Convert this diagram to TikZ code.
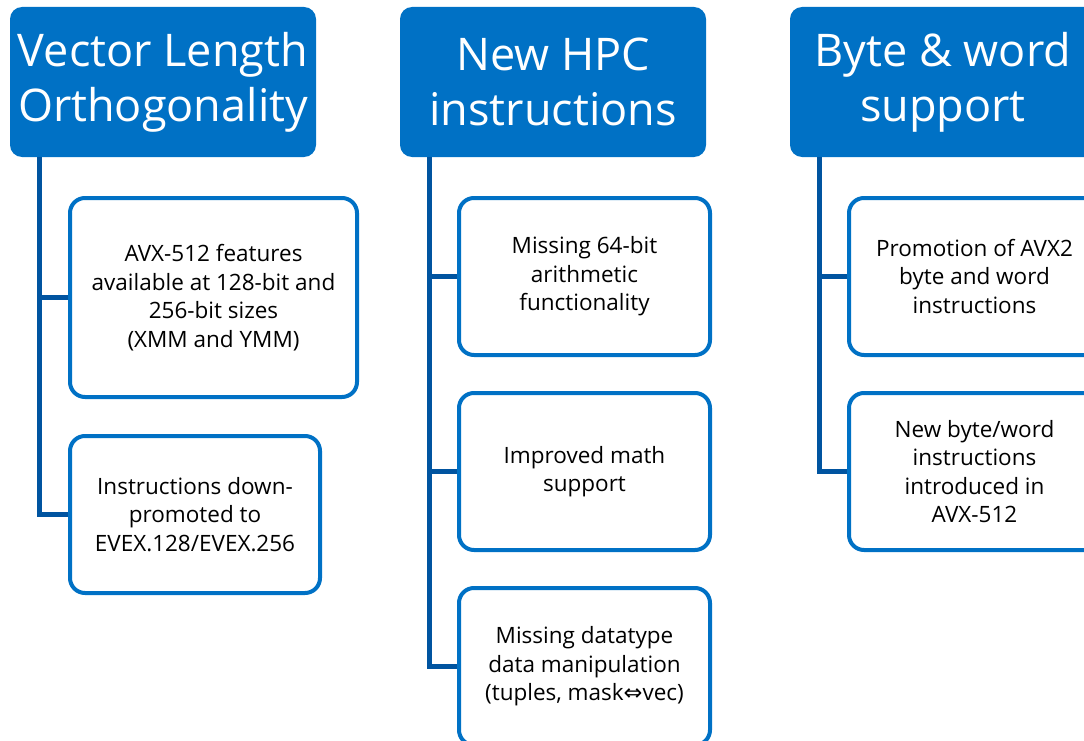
\documentclass[tikz,border=0pt]{standalone}
\usepackage{fontspec}
\setmainfont{Open Sans}
\newfontfamily\symfont{DejaVu Sans}
\definecolor{hdrblue}{RGB}{0,113,197}
\definecolor{linkblue}{RGB}{0,84,160}
\tikzset{
  hdr/.style={fill=hdrblue, rounded corners=12pt, text=white, align=center,
    minimum width=306pt, minimum height=150pt, inner sep=0pt,
    font=\fontsize{45}{55}\selectfont},
  item/.style={draw=hdrblue, line width=4pt, rounded corners=15pt, fill=white,
    align=center, inner sep=0pt, font=\fontsize{22.5}{28.5}\selectfont},
  conn/.style={draw=linkblue, line width=5pt}
}
\begin{document}
\begin{tikzpicture}[x=1pt, y=-1pt]
\useasboundingbox (0,0) rectangle (1084,741);
\clip (0,0) rectangle (1084,741);

% column headers
\node[hdr] (h1) at (163,82) {Vector Length\\Orthogonality};
\node[hdr] (h2) at (553,82) {New HPC\\instructions};
\node[hdr] (h3) at (943,82) {Byte \& word\\support};

% first column
\node[item, minimum width=287pt, minimum height=199pt] (a1) at (213.5,297.5)
  {AVX-512 features\\available at 128-bit and\\256-bit sizes\\(XMM and YMM)};
\node[item, minimum width=250pt, minimum height=157pt] (a2) at (195,514.5)
  {Instructions down-\\promoted to\\EVEX.128/EVEX.256};

% second column
\node[item, minimum width=251pt, minimum height=157pt] (b1) at (584.5,276.5)
  {Missing 64-bit\\arithmetic\\functionality};
\node[item, minimum width=251pt, minimum height=157pt] (b2) at (584.5,471.5)
  {Improved math\\support};
\node[item, minimum width=251pt, minimum height=157pt] (b3) at (584.5,666.5)
  {Missing datatype\\data manipulation\\(tuples, mask{\symfont ⇔}vec)};

% third column
\node[item, minimum width=251pt, minimum height=157pt] (c1) at (974.5,276.5)
  {Promotion of AVX2\\byte and word\\instructions};
\node[item, minimum width=251pt, minimum height=157pt] (c2) at (974.5,471.5)
  {New byte/word\\instructions\\introduced in\\AVX-512};

% connectors from each header down to its items
\draw[conn] ([xshift=30pt]h1.south west) |- (a1.west);
\draw[conn] ([xshift=30pt]h1.south west) |- (a2.west);
\draw[conn] ([xshift=30pt]h2.south west) |- (b1.west);
\draw[conn] ([xshift=30pt]h2.south west) |- (b2.west);
\draw[conn] ([xshift=30pt]h2.south west) |- (b3.west);
\draw[conn] ([xshift=30pt]h3.south west) |- (c1.west);
\draw[conn] ([xshift=30pt]h3.south west) |- (c2.west);
\end{tikzpicture}
\end{document}
